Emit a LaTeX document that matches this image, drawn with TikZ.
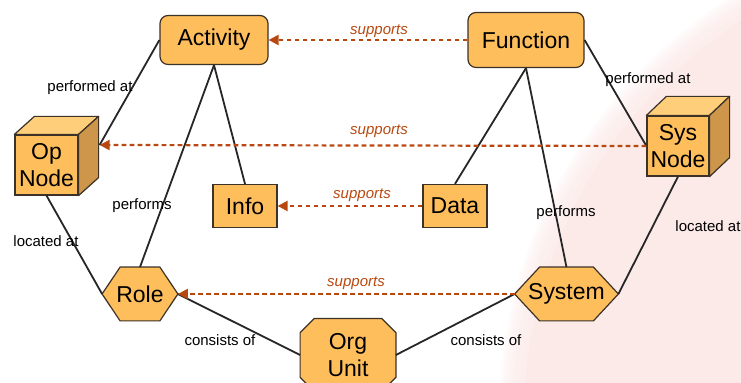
\documentclass[tikz,border=0pt]{standalone}
\usepackage{fontspec}
\setmainfont{Liberation Sans}
\usetikzlibrary{arrows.meta,backgrounds,calc}
\definecolor{boxfill}{RGB}{255,190,92}
\definecolor{boxline}{RGB}{60,50,40}
\definecolor{sidefill}{RGB}{205,150,75}
\definecolor{topfill}{RGB}{255,206,122}
\definecolor{supc}{RGB}{184,72,15}
\definecolor{pinkbg}{RGB}{251,234,232}
\tikzset{
  nodefont/.style={font=\fontsize{11.5}{13.5}\selectfont},
  box/.style={draw=boxline, fill=boxfill, line width=0.6pt, nodefont, align=center, inner sep=0pt},
  rbox/.style={box, rounded corners=4pt},
  bare/.style={draw=none, fill=none, nodefont, align=center, inner sep=0pt},
  shapefill/.style={draw=boxline, fill=boxfill, line width=0.6pt},
  link/.style={line width=0.9pt, black!85},
  sup/.style={draw=supc, line width=1.1pt, dash pattern=on 2.4pt off 1.6pt, -{Triangle[length=5pt,width=5pt]}},
  suplab/.style={text=supc, font=\fontsize{7.5}{9}\selectfont\itshape, inner sep=0pt},
  lab/.style={font=\fontsize{7.5}{9}\selectfont, inner sep=0pt},
}
\begin{document}
\begin{tikzpicture}[x=0.5pt,y=-0.5pt]
\useasboundingbox (0,0) rectangle (741,383);
\clip (0,0) rectangle (741,383);

% nodes
\node[rbox, minimum width=54pt, minimum height=24.5pt] (act) at (214,40) {Activity};
\node[rbox, minimum width=58pt, minimum height=27.5pt] (fun) at (526,40) {Function};
\node[box, minimum width=32pt, minimum height=21.5pt] (info) at (245,206) {Info};
\node[box, minimum width=32pt, minimum height=21.5pt] (data) at (455,206) {Data};
\node[box, minimum width=31.5pt, minimum height=30pt] (opn) at (46.5,165) {Op\\Node};
\node[box, minimum width=31pt, minimum height=30pt] (sysn) at (678,146) {Sys\\Node};
\node[bare, minimum width=37.5pt, minimum height=26.5pt] (role) at (140,294) {Role};
\node[bare, minimum width=51.5pt, minimum height=26.5pt] (sys) at (566.5,294) {System};
\node[bare, minimum width=47.5pt, minimum height=36pt] (org) at (348,355) {Org\\Unit};

% background: soft pink disc and shaped nodes
\begin{pgfonlayer}{background}
\foreach \k in {0,...,9} {
  \fill[pinkbg, opacity=0.16] (1000,420) circle [radius=240pt+\k*1.2pt];
}
\fill[pinkbg] (1000,420) circle [radius=238pt];
\filldraw[shapefill] (role.west) -- ([xshift=9pt]role.north west) -- ([xshift=-9pt]role.north east)
  -- (role.east) -- ([xshift=-9pt]role.south east) -- ([xshift=9pt]role.south west) -- cycle;
\filldraw[shapefill] (sys.west) -- ([xshift=12.5pt]sys.north west) -- ([xshift=-12.5pt]sys.north east)
  -- (sys.east) -- ([xshift=-12.5pt]sys.south east) -- ([xshift=12.5pt]sys.south west) -- cycle;
\filldraw[shapefill] ([yshift=-7pt]org.north west) -- ([xshift=7pt]org.north west) -- ([xshift=-7pt]org.north east)
  -- ([yshift=-7pt]org.north east) -- ([yshift=7pt]org.south east) -- ([xshift=-7pt]org.south east)
  -- ([xshift=7pt]org.south west) -- ([yshift=7pt]org.south west) -- cycle;
\end{pgfonlayer}

% cube faces
\filldraw[draw=boxline, fill=topfill, line width=0.6pt, line join=round] (opn.north west) -- ++(10pt,9pt) -- ([shift={(10pt,9pt)}]opn.north east) -- (opn.north east) -- cycle;
\filldraw[draw=boxline, fill=sidefill, line width=0.6pt, line join=round] (opn.north east) -- ++(10pt,9pt) -- ([shift={(10pt,9pt)}]opn.south east) -- (opn.south east) -- cycle;
\filldraw[draw=boxline, fill=topfill, line width=0.6pt, line join=round] (sysn.north west) -- ++(10pt,9.5pt) -- ([shift={(10pt,9.5pt)}]sysn.north east) -- (sysn.north east) -- cycle;
\filldraw[draw=boxline, fill=sidefill, line width=0.6pt, line join=round] (sysn.north east) -- ++(10pt,9.5pt) -- ([shift={(10pt,9.5pt)}]sysn.south east) -- (sysn.south east) -- cycle;
\coordinate (opside) at ([shift={(10.5pt,10pt)}]opn.east);

% black connectors
\draw[link] (act.west) -- (opside);
\draw[link] (act.south) -- (role.north);
\draw[link] (act.south) -- (info.north);
\draw[link] (fun.south) -- (data.north);
\draw[link] (fun.south) -- (sys.north);
\draw[link] (fun.east) -- (sysn.west);
\draw[link] (opn.south) -- (role.west);
\draw[link] (sysn.south) -- (sys.east);
\draw[link] (role.east) -- (org.west);
\draw[link] (sys.west) -- (org.east);

% supports arrows
\draw[sup] (fun.west) -- (act.east);
\draw[sup] (sysn.west) -- (opside);
\draw[sup] (data.west) -- (info.east);
\draw[sup] (sys.west) -- (role.east);

% labels
\node[suplab] (s1) at (379,31) {supports};
\node[suplab] (s2) at (379,131) {supports};
\node[suplab] (s3) at (362,195) {supports};
\node[suplab] (s4) at (356,283) {supports};
\node[lab] (l1) at (90,88) {performed at};
\node[lab] (l2) at (648,80) {performed at};
\node[lab] (l3) at (142,206) {performs};
\node[lab] (l4) at (566,213) {performs};
\node[lab] (l5) at (46,241) {located at};
\node[lab] (l6) at (708,226) {located at};
\node[lab] (l7) at (220,340) {consists of};
\node[lab] (l8) at (486,340) {consists of};
\end{tikzpicture}
\end{document}
